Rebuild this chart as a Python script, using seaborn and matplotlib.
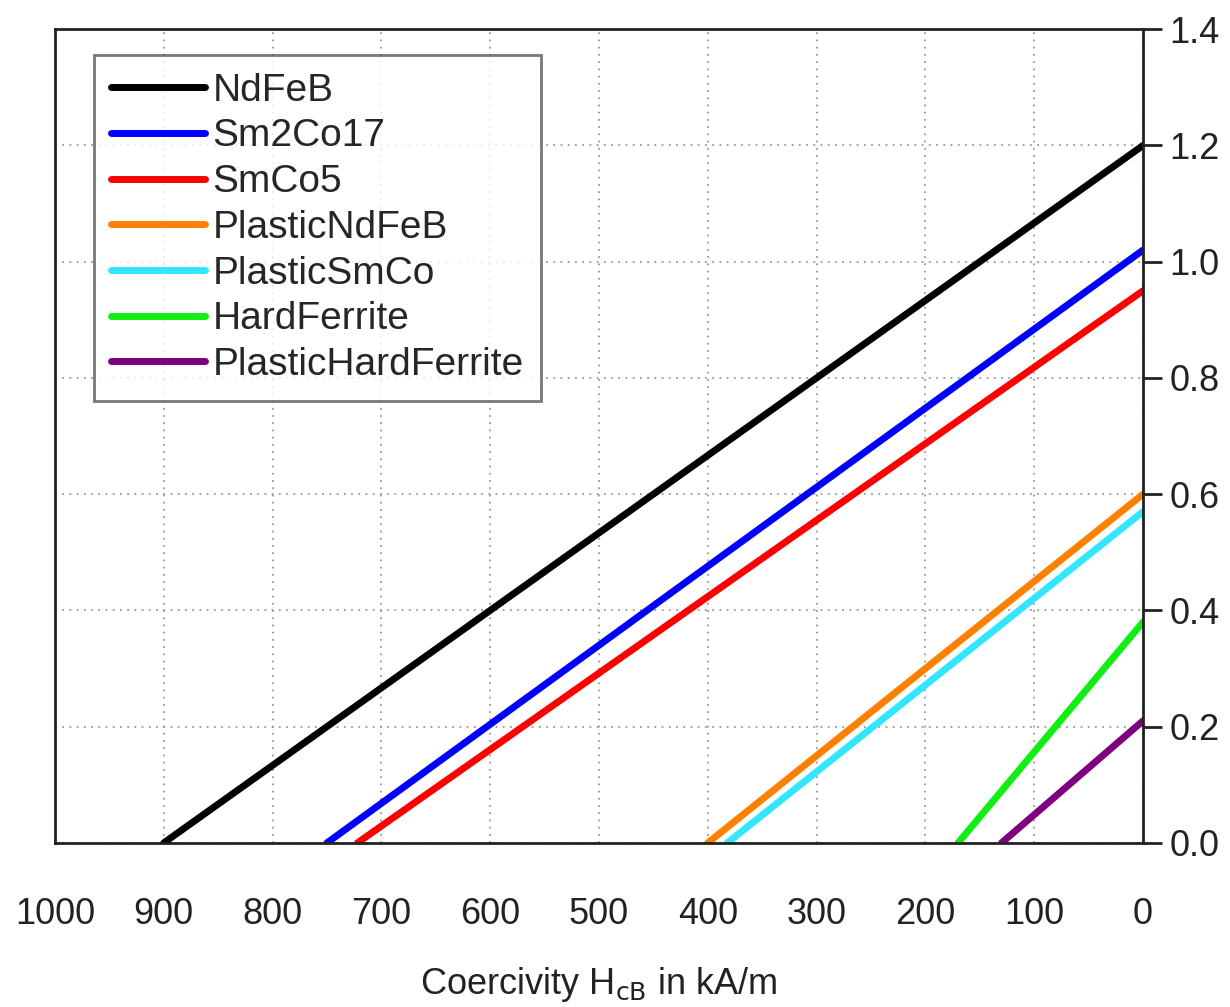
import matplotlib
matplotlib.use("Agg")
import matplotlib.pyplot as plt
import seaborn as sns
import pandas as pd

# magnet materials: remanence Br (T) at H=0 and coercivity HcB (kA/m) at B=0
materials = ["NdFeB", "Sm2Co17", "SmCo5", "PlasticNdFeB", "PlasticSmCo",
             "HardFerrite", "PlasticHardFerrite"]
br = [1.20, 1.02, 0.95, 0.60, 0.57, 0.38, 0.21]
hcb = [900, 750, 722, 400, 382, 170, 130]
colors = ["#000000", "#0000ff", "#ff0000", "#ff8000", "#33e6ff", "#11ee11", "#7f007f"]

x_ticks = [1000, 900, 800, 700, 600, 500, 400, 300, 200, 100, 0]
y_ticks = [0.0, 0.2, 0.4, 0.6, 0.8, 1.0, 1.2, 1.4]

rows = []
for m, b, h in zip(materials, br, hcb):
    rows.append({"material": m, "H": h, "B": 0.0})
    rows.append({"material": m, "H": 0, "B": b})
df = pd.DataFrame(rows)

sns.set_style("white")
plt.rcParams["font.family"] = ["Liberation Sans", "DejaVu Sans"]

fig = plt.figure(figsize=(12.3, 10.07), dpi=100)
ax = fig.add_axes([0.0447, 0.163, 0.8846, 0.808])

sns.lineplot(data=df, x="H", y="B", hue="material", hue_order=materials,
             palette=dict(zip(materials, colors)), linewidth=5,
             estimator=None, sort=False, ax=ax, legend=True)

ax.set_xlim(1000, 0)
ax.set_ylim(0, 1.4)
ax.set_xticks(x_ticks)
ax.set_yticks(y_ticks)
ax.set_yticklabels([f"{v:.1f}" for v in y_ticks])
ax.yaxis.tick_right()
ax.yaxis.set_label_position("right")
ax.tick_params(axis="both", direction="out", labelsize=26, colors="#222222",
               width=2, length=14, pad=5)
ax.tick_params(axis="x", pad=25)
ax.grid(True, linestyle=(0, (1, 3)), color="#999999", linewidth=1.3)

for s in ax.spines.values():
    s.set_visible(True)
    s.set_color("#222222")
    s.set_linewidth(2)

ax.set_xlabel(r"Coercivity H$_{\rm cB}$ in kA/m", fontsize=26, labelpad=24,
              color="#222222")
ax.set_ylabel("")

leg = ax.legend(loc="upper left", bbox_to_anchor=(0.0358, 0.968), fontsize=28,
                frameon=True, fancybox=False, handlelength=2.4, handletextpad=0.2,
                borderpad=0.45, labelspacing=0.25, borderaxespad=0)
leg.get_frame().set_edgecolor("#555555")
leg.get_frame().set_linewidth(2)
for line in leg.get_lines():
    line.set_linewidth(5)

fig.savefig("out.png", dpi=100)
